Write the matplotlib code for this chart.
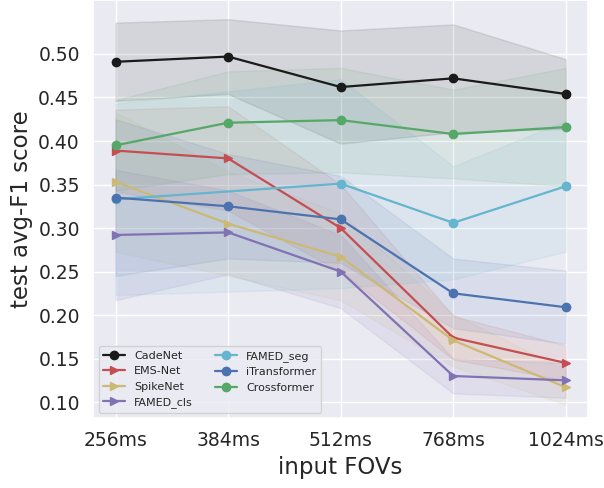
import numpy as np
import matplotlib
matplotlib.use("Agg")
import matplotlib.pyplot as plt
import seaborn as sns

# input window lengths
fovs = ['256ms', '384ms', '512ms', '768ms', '1024ms']
yticks = [0.10, 0.15, 0.20, 0.25, 0.30, 0.35, 0.40, 0.45, 0.50]

# mean / std of test avg-F1 per method
cadenet = [0.491, 0.497, 0.462, 0.472, 0.454]
cadenet_std = [0.045, 0.043, 0.065, 0.062, 0.040]
emsnet = [0.389, 0.380, 0.300, 0.174, 0.145]
emsnet_std = [0.047, 0.060, 0.050, 0.025, 0.020]
spikenet = [0.353, 0.305, 0.267, 0.171, 0.117]
spikenet_std = [0.080, 0.060, 0.050, 0.030, 0.020]
famed_cls = [0.292, 0.295, 0.250, 0.130, 0.125]
famed_cls_std = [0.075, 0.048, 0.042, 0.020, 0.020]
# FAMED_seg has no 384ms run
famed_seg_idx = [0, 2, 3, 4]
famed_seg = [0.333, 0.351, 0.306, 0.348]
famed_seg_std = [0.110, 0.120, 0.065, 0.075]
itrans = [0.335, 0.325, 0.310, 0.225, 0.209]
itrans_std = [0.090, 0.060, 0.050, 0.040, 0.042]
crossf = [0.395, 0.421, 0.424, 0.408, 0.416]
crossf_std = [0.052, 0.059, 0.060, 0.051, 0.068]

sns.set(color_codes=True)

fig = plt.figure(figsize=(6.04, 4.88), dpi=100)
ax = fig.add_subplot(111)
fig.subplots_adjust(left=0.154, right=0.974, top=1.0, bottom=0.143)

full = np.arange(len(fovs))
runs = [
    ('CadeNet', full, cadenet, cadenet_std, 'k', 'o'),
    ('EMS-Net', full, emsnet, emsnet_std, 'r', '>'),
    ('SpikeNet', full, spikenet, spikenet_std, 'y', '>'),
    ('FAMED_cls', full, famed_cls, famed_cls_std, 'm', '>'),
    ('FAMED_seg', np.array(famed_seg_idx), famed_seg, famed_seg_std, 'c', 'o'),
    ('iTransformer', full, itrans, itrans_std, 'b', 'o'),
    ('Crossformer', full, crossf, crossf_std, 'g', 'o'),
]

for name, x, m, s, c, mk in runs:
    m = np.array(m)
    s = np.array(s)
    ax.plot(x, m, color=c, marker=mk, markersize=6, linewidth=1.6, label=name)
    ax.fill_between(x, m - s, m + s, color=c, alpha=0.1)

ax.set_xticks(full)
ax.set_xticklabels(fovs, fontsize=13.5)
ax.set_yticks(yticks)
ax.set_yticklabels([f'{v:.2f}' for v in yticks], fontsize=13.5)
ax.set_ylim(0.0815, 0.562)
ax.set_xlabel('input FOVs', fontsize=16.5)
ax.set_ylabel('test avg-F1 score', fontsize=16.5)
ax.legend(loc='lower left', ncol=2, fontsize=8)

plt.savefig('out.png', dpi=100)
